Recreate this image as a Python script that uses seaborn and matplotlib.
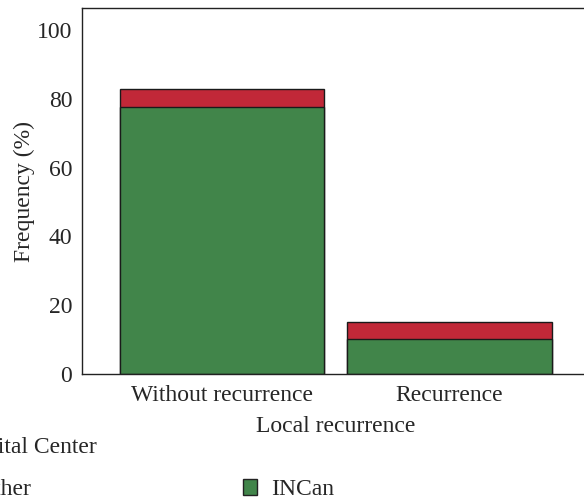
import pandas as pd
import matplotlib
matplotlib.use("Agg")
import matplotlib.pyplot as plt
import seaborn as sns
from matplotlib.patches import Patch

# data
categories = ["Without recurrence", "Recurrence"]
incan = [77.7, 10.3]
other = [5.1, 4.9]
legend_labels = ["Other", "INCan"]

green = "#41854A"
red = "#C12838"

df = pd.DataFrame({"Local recurrence": categories, "INCan": incan, "Other": other})
df["Total"] = df["INCan"] + df["Other"]

sns.set_theme(style="white")
plt.rcParams["font.family"] = ["Liberation Serif", "DejaVu Serif"]
fs = 17

fig = plt.figure(figsize=(5.84, 5.01), dpi=100)
ax = fig.add_axes([0.1404, 0.2535, 0.8682, 0.7305])

# stacked: total (red) behind, INCan (green) in front
sns.barplot(data=df, x="Local recurrence", y="Total", color=red, width=0.9,
            edgecolor="#1a1a1a", linewidth=1, saturation=1, ax=ax)
sns.barplot(data=df, x="Local recurrence", y="INCan", color=green, width=0.9,
            edgecolor="#1a1a1a", linewidth=1, saturation=1, ax=ax)

ax.set_xlim(-0.615, 1.615)
ax.set_ylim(0, 106.4)
ax.set_yticks([0, 20, 40, 60, 80, 100])
ax.tick_params(axis="y", length=5, width=1, color="#333333", labelsize=fs, pad=2)
ax.tick_params(axis="x", length=0, labelsize=fs, pad=7.6)
ax.set_xlabel("Local recurrence", fontsize=fs, labelpad=7.8)
ax.set_ylabel("Frequency (%)", fontsize=fs, labelpad=1.7)
for s in ax.spines.values():
    s.set_color("#222222")
    s.set_linewidth(1)

handles = [Patch(facecolor=red, edgecolor="#222222"),
           Patch(facecolor=green, edgecolor="#222222")]
leg = fig.legend(handles, legend_labels, title="Hospital Center", ncol=2,
                 loc="upper left", bbox_to_anchor=(-64 / 584, 1 - 425 / 501),
                 frameon=False, fontsize=fs, title_fontsize=fs,
                 handlelength=0.63, handleheight=0.63, handletextpad=0.6,
                 columnspacing=8.97, labelspacing=0.9, alignment="left",
                 borderpad=0)

fig.savefig("out.png", dpi=100)
